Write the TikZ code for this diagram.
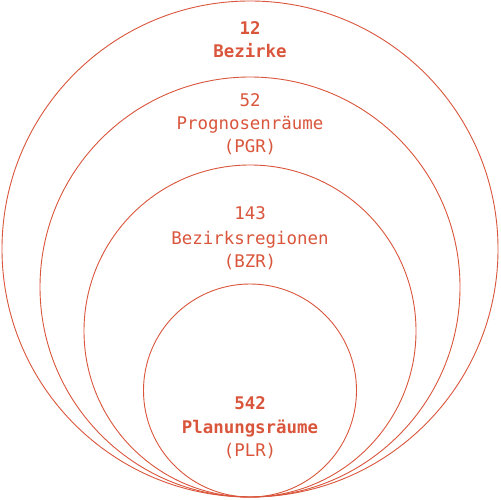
\documentclass[tikz,border=0pt]{standalone}
\usepackage{fontspec}
\setmonofont{DejaVu Sans Mono}
\definecolor{accent}{HTML}{D9553B}
\tikzset{
  ring/.style={draw=accent, line width=0.9bp},
  lbl/.style={text=accent, anchor=base, inner sep=0pt, font=\ttfamily\fontsize{17.5}{20}\selectfont},
  lblb/.style={lbl, font=\ttfamily\bfseries\fontsize{17.5}{20}\selectfont}
}
\begin{document}
\begin{tikzpicture}[x=1bp,y=-1bp]
\useasboundingbox (0,0) rectangle (500,500);
\draw[ring] (250,249) circle[radius=248bp];
\draw[ring] (250,287) circle[radius=210bp];
\draw[ring] (250,331) circle[radius=166bp];
\draw[ring] (250,390.5) circle[radius=106.5bp];
\node[lblb] (n1) at (250,35) {12};
\node[lblb] (t1) at (250,58) {Bezirke};
\node[lbl] (n2) at (250,107) {52};
\node[lbl] (t2) at (250,130) {Prognosenräume};
\node[lbl] (a2) at (250,153) {(PGR)};
\node[lbl] (n3) at (250,219) {143};
\node[lbl] (t3) at (250,244) {Bezirksregionen};
\node[lbl] (a3) at (250,267) {(BZR)};
\node[lblb] (n4) at (250,409) {542};
\node[lblb] (t4) at (250,433) {Planungsräume};
\node[lbl] (a4) at (250,456) {(PLR)};
\end{tikzpicture}
\end{document}
